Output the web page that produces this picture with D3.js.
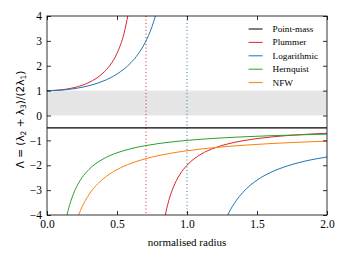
<!DOCTYPE html>
<html>
<head>
<meta charset="utf-8">
<script src="https://cdn.jsdelivr.net/npm/d3@7"></script>
<style>
  body { margin: 0; background: #fff; }
  svg { font-family: "Liberation Serif", "Times New Roman", serif; }
</style>
</head>
<body>
<div id="chart"></div>
<script>
// Series values: [radius, Lambda]
const pointMass = [[0, -0.5], [2, -0.5]];
const plummerInner = [[0, 1], [0.1, 1.031], [0.2, 1.13], [0.3, 1.329], [0.4, 1.706], [0.45, 2.021],
  [0.5, 2.5], [0.55, 3.297], [0.58, 4.08]];
const plummerOuter = [[0.84, -4.148], [0.85, -3.871], [0.87, -3.419], [0.9, -2.919], [0.95, -2.363],
  [1.0, -2.0], [1.1, -1.556], [1.2, -1.298], [1.3, -1.13], [1.4, -1.014], [1.5, -0.929],
  [1.6, -0.864], [1.7, -0.814], [1.8, -0.774], [1.9, -0.741], [2.0, -0.714]];
const logInner = [[0, 1], [0.1, 1.02], [0.2, 1.083], [0.3, 1.198], [0.4, 1.381], [0.5, 1.667],
  [0.6, 2.125], [0.65, 2.463], [0.7, 2.922], [0.75, 3.571], [0.78, 4.107]];
const logOuter = [[1.28, -4.133], [1.3, -3.899], [1.35, -3.432], [1.4, -3.083], [1.5, -2.6],
  [1.6, -2.282], [1.7, -2.058], [1.8, -1.893], [1.9, -1.766], [2.0, -1.667]];
const hernquist = [[0.14, -4.071], [0.15, -3.833], [0.175, -3.357], [0.2, -3.0], [0.25, -2.5],
  [0.3, -2.167], [0.4, -1.75], [0.5, -1.5], [0.6, -1.333], [0.7, -1.214], [0.8, -1.125],
  [1.0, -1.0], [1.2, -0.917], [1.4, -0.857], [1.6, -0.8125], [1.8, -0.778], [2.0, -0.75]];
const nfw = [[0.2, -4.432], [0.22, -4.091], [0.23, -3.943], [0.25, -3.681], [0.3, -3.18],
  [0.4, -2.553], [0.5, -2.176], [0.6, -1.924], [0.7, -1.744], [0.8, -1.608], [1.0, -1.417],
  [1.2, -1.289], [1.4, -1.197], [1.6, -1.128], [1.8, -1.074], [2.0, -1.03]];
const plummerCut = 0.7071;
const logCut = 1.0;
const bandRange = [0, 1];

const seriesNames = ["Point-mass", "Plummer", "Logarithmic", "Hernquist", "NFW"];
const seriesColors = ["#000000", "#d62728", "#1f77b4", "#2ca02c", "#ff7f0e"];
const xTicks = [0, 0.5, 1.0, 1.5, 2.0];
const yTicks = [-4, -3, -2, -1, 0, 1, 2, 3, 4];

const margin = {top: 16, right: 19, bottom: 45, left: 47};
const width = 346 - margin.left - margin.right;
const height = 260 - margin.top - margin.bottom;

const svg = d3.select("#chart").append("svg")
  .attr("width", 346)
  .attr("height", 260)
  .append("g")
  .attr("transform", `translate(${margin.left},${margin.top})`);

const x = d3.scaleLinear().domain([0, 2]).range([0, width]);
const y = d3.scaleLinear().domain([-4, 4]).range([height, 0]);
const color = d3.scaleOrdinal().domain(seriesNames).range(seriesColors);

svg.append("clipPath").attr("id", "clip")
  .append("rect").attr("width", width).attr("height", height);

const plot = svg.append("g").attr("clip-path", "url(#clip)");

// grey band
plot.append("rect")
  .attr("x", 0)
  .attr("y", y(bandRange[1]))
  .attr("width", width)
  .attr("height", y(bandRange[0]) - y(bandRange[1]))
  .attr("fill", "#e5e5e5");

// dotted divergence lines
[[plummerCut, "Plummer"], [logCut, "Logarithmic"]].forEach(([v, name]) => {
  plot.append("line")
    .attr("x1", x(v)).attr("x2", x(v))
    .attr("y1", 0).attr("y2", height)
    .attr("stroke", color(name))
    .attr("stroke-width", 1)
    .attr("stroke-dasharray", "1,2.5");
});

const line = d3.line()
  .x(d => x(d[0]))
  .y(d => y(d[1]))
  .curve(d3.curveMonotoneX);

const curves = [
  [pointMass, "Point-mass", 1.3],
  [plummerInner, "Plummer", 1], [plummerOuter, "Plummer", 1],
  [logInner, "Logarithmic", 1], [logOuter, "Logarithmic", 1],
  [hernquist, "Hernquist", 1], [nfw, "NFW", 1]
];
curves.forEach(([data, name, w]) => {
  plot.append("path")
    .datum(data)
    .attr("fill", "none")
    .attr("stroke", color(name))
    .attr("stroke-width", w)
    .attr("d", line);
});

// axes with inward ticks
const tickLen = 4;
const styleAxis = g => {
  g.select(".domain").remove();
  g.selectAll(".tick line").attr("stroke", "#000").attr("stroke-width", 0.8);
  g.selectAll("text").attr("font-size", 11.5).attr("fill", "#000")
    .attr("font-family", "Liberation Serif, serif");
};

svg.append("g")
  .attr("transform", `translate(0,${height})`)
  .call(d3.axisBottom(x).tickValues(xTicks).tickFormat(d3.format(".1f"))
    .tickSizeInner(-tickLen).tickSizeOuter(0).tickPadding(5))
  .call(styleAxis);

svg.append("g")
  .call(d3.axisTop(x).tickValues(xTicks).tickFormat("")
    .tickSizeInner(-tickLen).tickSizeOuter(0))
  .call(styleAxis);

svg.append("g")
  .call(d3.axisLeft(y).tickValues(yTicks).tickFormat(d => d < 0 ? "\u2212" + Math.abs(d) : d)
    .tickSizeInner(-tickLen).tickSizeOuter(0).tickPadding(5))
  .call(styleAxis);

svg.append("g")
  .attr("transform", `translate(${width},0)`)
  .call(d3.axisRight(y).tickValues(yTicks).tickFormat("")
    .tickSizeInner(-tickLen).tickSizeOuter(0))
  .call(styleAxis);

// frame
svg.append("rect")
  .attr("width", width).attr("height", height)
  .attr("fill", "none")
  .attr("stroke", "#000")
  .attr("stroke-width", 0.8);

// x-axis label
svg.append("text")
  .attr("x", width / 2)
  .attr("y", height + 31)
  .attr("text-anchor", "middle")
  .attr("font-size", 11)
  .text("normalised radius");

// y-axis label (mathtext style)
const yl = svg.append("text")
  .attr("transform", "rotate(-90)")
  .attr("x", -height / 2 - 4)
  .attr("y", -margin.left + 24)
  .attr("text-anchor", "middle")
  .attr("font-family", "DejaVu Sans, sans-serif")
  .attr("font-size", 10.5);
yl.append("tspan").text("\u039B = (\u03BB");
yl.append("tspan").attr("font-size", 7.5).attr("dy", 2).text("2");
yl.append("tspan").attr("dy", -2).text(" + \u03BB");
yl.append("tspan").attr("font-size", 7.5).attr("dy", 2).text("3");
yl.append("tspan").attr("dy", -2).text(")/(2\u03BB");
yl.append("tspan").attr("font-size", 7.5).attr("dy", 2).text("1");
yl.append("tspan").attr("dy", -2).text(")");

// legend
const legend = svg.append("g")
  .attr("transform", `translate(${x(1.44)}, 13)`);

seriesNames.forEach((name, i) => {
  legend.append("line")
    .attr("x1", 0).attr("x2", 14)
    .attr("y1", i * 13.4).attr("y2", i * 13.4)
    .attr("stroke", color(name))
    .attr("stroke-width", 1);
  legend.append("text")
    .attr("x", 24)
    .attr("y", i * 13.4 + 3)
    .attr("font-size", 9.2)
    .text(name);
});
</script>
</body>
</html>
